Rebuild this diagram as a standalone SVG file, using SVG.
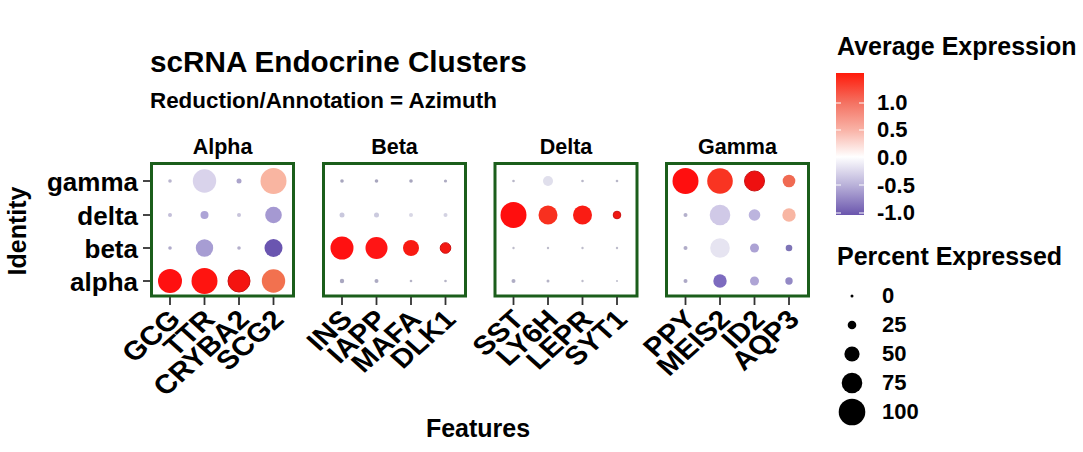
<svg xmlns="http://www.w3.org/2000/svg" width="1083" height="452" viewBox="0 0 1083 452">
<style>
text{font-family:"Liberation Sans",Arial,sans-serif;font-weight:bold;fill:#000}
.title{font-size:29.7px}
.sub{font-size:22.4px}
.strip{font-size:21.5px;text-anchor:middle}
.ylab{font-size:26px;text-anchor:end}
.xlab{font-size:26.5px;text-anchor:end}
.axt{font-size:25px}
.legt{font-size:25px}
.legl{font-size:22px}
.panel{fill:#fff;stroke:#1b5e1b;stroke-width:3}
.tick{stroke:#333;stroke-width:1.8}
.cbt{stroke:#fff;stroke-width:1}
.rim{stroke:#CC1212;stroke-width:1}
</style>
<defs>
<linearGradient id="cb" x1="0" y1="0" x2="0" y2="1">
<stop offset="0" stop-color="#FF1A0A"/>
<stop offset="0.21" stop-color="#F47262"/>
<stop offset="0.40" stop-color="#F9B2A6"/>
<stop offset="0.59" stop-color="#FFFFFF"/>
<stop offset="0.79" stop-color="#B9B1D9"/>
<stop offset="1" stop-color="#6A55AD"/>
</linearGradient>
</defs>
<rect width="1083" height="452" fill="#fff"/>
<text class="title" x="150" y="72">scRNA Endocrine Clusters</text>
<text class="sub" x="150" y="108">Reduction/Annotation = Azimuth</text>
<text class="axt" transform="translate(26,231) rotate(-90)" text-anchor="middle">Identity</text>
<text class="axt" x="478" y="437" text-anchor="middle">Features</text>
<g id="yaxis">
<text class="ylab" x="138" y="191">gamma</text>
<text class="ylab" x="138" y="225">delta</text>
<text class="ylab" x="138" y="258">beta</text>
<text class="ylab" x="138" y="291">alpha</text>
<line class="tick" x1="143" y1="181" x2="150" y2="181"/>
<line class="tick" x1="143" y1="215" x2="150" y2="215"/>
<line class="tick" x1="143" y1="248" x2="150" y2="248"/>
<line class="tick" x1="143" y1="281" x2="150" y2="281"/>
</g>
<g id="panel-alpha">
<text class="strip" x="222.5" y="154">Alpha</text>
<rect class="panel" x="151.5" y="163.5" width="142" height="132.5"/>
<circle cx="170" cy="181" r="1.8" fill="#B9B5CE"/>
<circle cx="204.5" cy="181" r="11.7" fill="#D9D3EB"/>
<circle cx="239" cy="181" r="2.5" fill="#ABA4CB"/>
<circle cx="273.5" cy="181" r="13" fill="#F9B5A1"/>
<circle cx="170" cy="215" r="2" fill="#C3BFD9"/>
<circle cx="204.5" cy="215" r="4" fill="#ADA4D6"/>
<circle cx="239" cy="215" r="2" fill="#C8C4DB"/>
<circle cx="273.5" cy="215" r="8.3" fill="#A599D2"/>
<circle cx="170" cy="248" r="1.8" fill="#B0ABCB"/>
<circle cx="204.5" cy="248" r="8.7" fill="#A79DD3"/>
<circle cx="239" cy="248" r="1.8" fill="#B4AFCB"/>
<circle cx="273.5" cy="248" r="9" fill="#6A55B0"/>
<circle cx="170" cy="281" r="12" fill="#FF1010"/>
<circle cx="204.5" cy="281" r="13" fill="#FF1410"/>
<circle class="rim" cx="239" cy="281" r="11" fill="#F41410"/>
<circle cx="273.5" cy="281" r="11.7" fill="#F2714F"/>
<line class="tick" x1="170" y1="297" x2="170" y2="305"/>
<line class="tick" x1="204.5" y1="297" x2="204.5" y2="305"/>
<line class="tick" x1="239" y1="297" x2="239" y2="305"/>
<line class="tick" x1="273.5" y1="297" x2="273.5" y2="305"/>
<text class="xlab" transform="translate(182,321) scale(1.12,1) rotate(-45)">GCG</text>
<text class="xlab" transform="translate(216.5,321) scale(1.12,1) rotate(-45)">TTR</text>
<text class="xlab" transform="translate(251,321) scale(1.12,1) rotate(-45)">CRYBA2</text>
<text class="xlab" transform="translate(285.5,321) scale(1.12,1) rotate(-45)">SCG2</text>
</g>
<g id="panel-beta">
<text class="strip" x="394.5" y="154">Beta</text>
<rect class="panel" x="323.5" y="163.5" width="142" height="132.5"/>
<circle cx="342" cy="181" r="1.8" fill="#A8A6BE"/>
<circle cx="376.5" cy="181" r="1.8" fill="#A8A6BE"/>
<circle cx="411" cy="181" r="1.8" fill="#A8A6BE"/>
<circle cx="445.5" cy="181" r="1.6" fill="#ADABC2"/>
<circle cx="342" cy="215" r="2.5" fill="#C9C8DD"/>
<circle cx="376.5" cy="215" r="2.5" fill="#CBCADE"/>
<circle cx="411" cy="215" r="2" fill="#D8D7E5"/>
<circle cx="445.5" cy="215" r="2" fill="#D3D2E2"/>
<circle cx="342" cy="248" r="11.5" fill="#FF1111"/>
<circle cx="376.5" cy="248" r="11" fill="#FF1515"/>
<circle cx="411" cy="248" r="8" fill="#F81A12"/>
<circle class="rim" cx="445.5" cy="248" r="5.3" fill="#F41812"/>
<circle cx="342" cy="281" r="2.2" fill="#A9A7C0"/>
<circle cx="376.5" cy="281" r="2" fill="#ACAAC2"/>
<circle cx="411" cy="281" r="1.3" fill="#B5B3C6"/>
<circle cx="445.5" cy="281" r="1.3" fill="#B5B3C6"/>
<line class="tick" x1="342" y1="297" x2="342" y2="305"/>
<line class="tick" x1="376.5" y1="297" x2="376.5" y2="305"/>
<line class="tick" x1="411" y1="297" x2="411" y2="305"/>
<line class="tick" x1="445.5" y1="297" x2="445.5" y2="305"/>
<text class="xlab" transform="translate(354,321) scale(1.12,1) rotate(-45)">INS</text>
<text class="xlab" transform="translate(388.5,321) scale(1.12,1) rotate(-45)">IAPP</text>
<text class="xlab" transform="translate(423,321) scale(1.12,1) rotate(-45)">MAFA</text>
<text class="xlab" transform="translate(457.5,321) scale(1.12,1) rotate(-45)">DLK1</text>
</g>
<g id="panel-delta">
<text class="strip" x="566" y="154">Delta</text>
<rect class="panel" x="495" y="163.5" width="142" height="132.5"/>
<circle cx="513.5" cy="181" r="1.3" fill="#B8B7C8"/>
<circle cx="548" cy="181" r="5" fill="#E0DFEC"/>
<circle cx="582.5" cy="181" r="1.3" fill="#B8B7C8"/>
<circle cx="617" cy="181" r="1.3" fill="#B8B7C8"/>
<circle cx="513.5" cy="215" r="13" fill="#FF0E0E"/>
<circle cx="548" cy="215" r="9.5" fill="#F8301F"/>
<circle cx="582.5" cy="215" r="9.5" fill="#FA1C14"/>
<circle class="rim" cx="617" cy="215" r="3.8" fill="#F01812"/>
<circle cx="513.5" cy="248" r="1.2" fill="#BDBCCB"/>
<circle cx="548" cy="248" r="1.2" fill="#BDBCCB"/>
<circle cx="582.5" cy="248" r="1.2" fill="#BDBCCB"/>
<circle cx="617" cy="248" r="1.2" fill="#BDBCCB"/>
<circle cx="513.5" cy="281" r="2" fill="#AFADC4"/>
<circle cx="548" cy="281" r="1.5" fill="#B5B3C6"/>
<circle cx="582.5" cy="281" r="1.2" fill="#BDBCCB"/>
<circle cx="617" cy="281" r="1" fill="#BDBCCB"/>
<line class="tick" x1="513.5" y1="297" x2="513.5" y2="305"/>
<line class="tick" x1="548" y1="297" x2="548" y2="305"/>
<line class="tick" x1="582.5" y1="297" x2="582.5" y2="305"/>
<line class="tick" x1="617" y1="297" x2="617" y2="305"/>
<text class="xlab" transform="translate(525.5,321) scale(1.12,1) rotate(-45)">SST</text>
<text class="xlab" transform="translate(560,321) scale(1.12,1) rotate(-45)">LY6H</text>
<text class="xlab" transform="translate(594.5,321) scale(1.12,1) rotate(-45)">LEPR</text>
<text class="xlab" transform="translate(629,321) scale(1.12,1) rotate(-45)">SYT1</text>
</g>
<g id="panel-gamma">
<text class="strip" x="737.5" y="154">Gamma</text>
<rect class="panel" x="666.5" y="163.5" width="142" height="132.5"/>
<circle cx="685.5" cy="181" r="13" fill="#FF0F0F"/>
<circle cx="720" cy="181" r="12.8" fill="#F93422"/>
<circle class="rim" cx="754.5" cy="181" r="10" fill="#EE1010"/>
<circle cx="789" cy="181" r="6.3" fill="#F06A52"/>
<circle cx="685.5" cy="215" r="2" fill="#B4B0CC"/>
<circle cx="720" cy="215" r="10.3" fill="#D0C9E7"/>
<circle cx="754.5" cy="215" r="5.8" fill="#BCB4DE"/>
<circle cx="789" cy="215" r="6.7" fill="#F8B6A3"/>
<circle cx="685.5" cy="248" r="2" fill="#B0ACC8"/>
<circle cx="720" cy="248" r="9.8" fill="#E6E4F1"/>
<circle cx="754.5" cy="248" r="4.5" fill="#ACA2D4"/>
<circle cx="789" cy="248" r="3.3" fill="#7E74B6"/>
<circle cx="685.5" cy="281" r="2" fill="#ACA8C6"/>
<circle cx="720" cy="281" r="6.7" fill="#7D6BBF"/>
<circle cx="754.5" cy="281" r="4.5" fill="#AEA4D5"/>
<circle cx="789" cy="281" r="3.7" fill="#9389C5"/>
<line class="tick" x1="685.5" y1="297" x2="685.5" y2="305"/>
<line class="tick" x1="720" y1="297" x2="720" y2="305"/>
<line class="tick" x1="754.5" y1="297" x2="754.5" y2="305"/>
<line class="tick" x1="789" y1="297" x2="789" y2="305"/>
<text class="xlab" transform="translate(697.5,321) scale(1.12,1) rotate(-45)">PPY</text>
<text class="xlab" transform="translate(732,321) scale(1.12,1) rotate(-45)">MEIS2</text>
<text class="xlab" transform="translate(766.5,321) scale(1.12,1) rotate(-45)">ID2</text>
<text class="xlab" transform="translate(801,321) scale(1.12,1) rotate(-45)">AQP3</text>
</g>
<g id="legend-color">
<text class="legt" x="837" y="55">Average Expression</text>
<rect x="836" y="73" width="28" height="142" fill="url(#cb)"/>
<line class="cbt" x1="836" y1="103" x2="841" y2="103"/><line class="cbt" x1="859" y1="103" x2="864" y2="103"/>
<line class="cbt" x1="836" y1="130" x2="841" y2="130"/><line class="cbt" x1="859" y1="130" x2="864" y2="130"/>
<line class="cbt" x1="836" y1="157" x2="841" y2="157"/><line class="cbt" x1="859" y1="157" x2="864" y2="157"/>
<line class="cbt" x1="836" y1="185" x2="841" y2="185"/><line class="cbt" x1="859" y1="185" x2="864" y2="185"/>
<line class="cbt" x1="836" y1="213" x2="841" y2="213"/><line class="cbt" x1="859" y1="213" x2="864" y2="213"/>
<text class="legl" x="877" y="110">1.0</text>
<text class="legl" x="877" y="137">0.5</text>
<text class="legl" x="877" y="165">0.0</text>
<text class="legl" x="877" y="193">-0.5</text>
<text class="legl" x="877" y="220">-1.0</text>
</g>
<g id="legend-size">
<text class="legt" x="837" y="265">Percent Expressed</text>
<circle cx="852" cy="296" r="1.5" fill="#000"/>
<circle cx="852" cy="325" r="4.3" fill="#000"/>
<circle cx="852" cy="354" r="7.6" fill="#000"/>
<circle cx="852" cy="383" r="10.3" fill="#000"/>
<circle cx="852" cy="412" r="13.3" fill="#000"/>
<text class="legl" x="882" y="303">0</text>
<text class="legl" x="882" y="332">25</text>
<text class="legl" x="882" y="361">50</text>
<text class="legl" x="882" y="390">75</text>
<text class="legl" x="882" y="419">100</text>
</g>
</svg>
